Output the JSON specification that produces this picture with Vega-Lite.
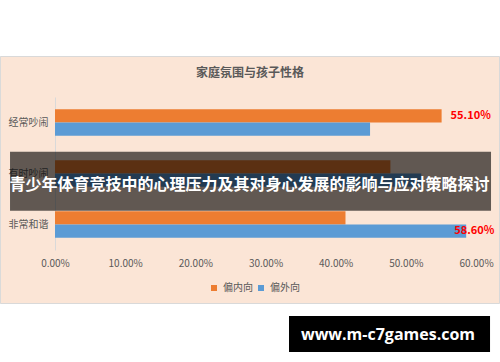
{
  "$schema": "https://vega.github.io/schema/vega-lite/v6.json",
  "width": 421,
  "height": 153,
  "autosize": {"type": "none"},
  "padding": {"left": 55, "top": 97, "right": 24, "bottom": 112},
  "background": "#FBE5D6",
  "config": {
    "view": {"stroke": null},
    "font": "Noto Sans CJK SC",
    "axis": {"labelFont": "Noto Sans CJK SC", "labelColor": "#595959", "labelFontSize": 10, "ticks": false, "grid": false, "title": null}
  },
  "data": {
    "values": [
      {"category": "经常吵闹", "personality": "偏内向", "value": 0.551},
      {"category": "经常吵闹", "personality": "偏外向", "value": 0.449},
      {"category": "有时吵闹", "personality": "偏内向", "value": 0.478},
      {"category": "有时吵闹", "personality": "偏外向", "value": 0.522},
      {"category": "非常和谐", "personality": "偏内向", "value": 0.414},
      {"category": "非常和谐", "personality": "偏外向", "value": 0.586}
    ]
  },
  "resolve": {"scale": {"y": "independent"}},
  "layer": [
    {
      "mark": {"type": "bar"},
      "encoding": {
        "y": {"field": "category", "type": "nominal", "title": null,
              "scale": {"domain": ["经常吵闹", "有时吵闹", "非常和谐"], "paddingInner": 0.476, "paddingOuter": 0.238},
              "axis": {"domain": true, "domainColor": "#D9D9D9", "labelPadding": 7}},
        "yOffset": {"field": "personality", "type": "nominal", "scale": {"domain": ["偏内向", "偏外向"], "paddingInner": 0, "paddingOuter": 0}},
        "x": {"field": "value", "type": "quantitative", "title": null,
              "scale": {"domain": [0, 0.6], "nice": false, "zero": true},
              "axis": {"format": ".2%", "values": [0, 0.1, 0.2, 0.3, 0.4, 0.5, 0.6], "domain": false, "labelPadding": 8, "labelFlush": false, "labelOverlap": false}},
        "color": {"field": "personality", "type": "nominal", "title": null,
                  "scale": {"domain": ["偏内向", "偏外向"], "range": ["#ED7D31", "#5B9BD5"]},
                  "legend": {"orient": "none", "legendX": 154, "legendY": 186, "direction": "horizontal",
                             "symbolType": "square", "symbolSize": 36, "symbolStrokeWidth": 0,
                             "labelFontSize": 10, "labelColor": "#595959", "labelFont": "Noto Sans CJK SC",
                             "labelOffset": 4, "columnPadding": 3, "padding": 0}}
      }
    },
    {
      "transform": [{"filter": "datum.category === '经常吵闹' && datum.personality === '偏内向'"}],
      "mark": {"type": "text", "align": "left", "baseline": "middle", "dx": 9, "fontSize": 11, "fontWeight": "bold", "color": "#FF0000"},
      "encoding": {
        "y": {"field": "category", "type": "nominal", "axis": null,
              "scale": {"domain": ["经常吵闹", "有时吵闹", "非常和谐"], "paddingInner": 0.476, "paddingOuter": 0.238}},
        "yOffset": {"field": "personality", "type": "nominal", "scale": {"domain": ["偏内向", "偏外向"], "paddingInner": 0, "paddingOuter": 0}},
        "x": {"field": "value", "type": "quantitative", "scale": {"domain": [0, 0.6], "nice": false, "zero": true}},
        "text": {"field": "value", "type": "quantitative", "format": ".2%"}
      }
    },
    {
      "transform": [{"filter": "datum.category === '非常和谐' && datum.personality === '偏外向'"}],
      "mark": {"type": "text", "align": "left", "baseline": "middle", "dx": -12, "fontSize": 11, "fontWeight": "bold", "color": "#FF0000"},
      "encoding": {
        "y": {"field": "category", "type": "nominal", "axis": null,
              "scale": {"domain": ["经常吵闹", "有时吵闹", "非常和谐"], "paddingInner": 0.476, "paddingOuter": 0.238}},
        "yOffset": {"field": "personality", "type": "nominal", "scale": {"domain": ["偏内向", "偏外向"], "paddingInner": 0, "paddingOuter": 0}},
        "x": {"field": "value", "type": "quantitative", "scale": {"domain": [0, 0.6], "nice": false, "zero": true}},
        "text": {"field": "value", "type": "quantitative", "format": ".2%"}
      }
    },
    {
      "data": {"values": [{"label": "家庭氛围与孩子性格"}]},
      "mark": {"type": "text", "align": "center", "baseline": "middle", "fontSize": 12, "fontWeight": "bold", "color": "#595959"},
      "encoding": {
        "x": {"datum": 0.2779, "type": "quantitative", "scale": {"domain": [0, 0.6], "nice": false, "zero": true}},
        "y": {"datum": -0.155, "type": "quantitative", "axis": null, "scale": {"domain": [0, 1], "reverse": true, "nice": false, "zero": false}},
        "text": {"field": "label", "type": "nominal"}
      }
    },
    {
      "data": {"values": [{}]},
      "mark": {"type": "rect", "fill": "white"},
      "encoding": {
        "x": {"datum": -0.09, "type": "quantitative", "scale": {"domain": [0, 0.6], "nice": false, "zero": true}},
        "x2": {"datum": 0.65},
        "y": {"datum": -1, "type": "quantitative", "axis": null, "scale": {"domain": [0, 1], "reverse": true, "nice": false, "zero": false}},
        "y2": {"datum": -0.2647}
      }
    },
    {
      "data": {"values": [{}]},
      "mark": {"type": "rect", "fill": "white"},
      "encoding": {
        "x": {"datum": -0.09, "type": "quantitative", "scale": {"domain": [0, 0.6], "nice": false, "zero": true}},
        "x2": {"datum": 0.65},
        "y": {"datum": 1.3497, "type": "quantitative", "axis": null, "scale": {"domain": [0, 1], "reverse": true, "nice": false, "zero": false}},
        "y2": {"datum": 2}
      }
    },
    {
      "data": {"values": [{}]},
      "mark": {"type": "rect", "fill": null, "fillOpacity": 0, "stroke": "#D9D9D9", "strokeWidth": 1},
      "encoding": {
        "x": {"datum": -0.0777, "type": "quantitative", "scale": {"domain": [0, 0.6], "nice": false, "zero": true}},
        "x2": {"datum": 0.6335},
        "y": {"datum": -0.2647, "type": "quantitative", "axis": null, "scale": {"domain": [0, 1], "reverse": true, "nice": false, "zero": false}},
        "y2": {"datum": 1.3497}
      }
    },
    {
      "data": {"values": [{}]},
      "mark": {"type": "rect", "fill": "black", "opacity": 0.615},
      "encoding": {
        "x": {"datum": -0.0641, "type": "quantitative", "scale": {"domain": [0, 0.6], "nice": false, "zero": true}},
        "x2": {"datum": 0.6214},
        "y": {"datum": 0.3575, "type": "quantitative", "axis": null, "scale": {"domain": [0, 1], "reverse": true, "nice": false, "zero": false}},
        "y2": {"datum": 0.7431}
      }
    },
    {
      "data": {"values": [{"label": "青少年体育竞技中的心理压力及其对身心发展的影响与应对策略探讨"}]},
      "mark": {"type": "text", "align": "center", "baseline": "middle", "fontSize": 16, "fontWeight": "bold", "color": "white", "font": "Noto Sans CJK SC"},
      "encoding": {
        "x": {"datum": 0.2772, "type": "quantitative", "scale": {"domain": [0, 0.6], "nice": false, "zero": true}},
        "y": {"datum": 0.5752, "type": "quantitative", "axis": null, "scale": {"domain": [0, 1], "reverse": true, "nice": false, "zero": false}},
        "text": {"field": "label", "type": "nominal"}
      }
    },
    {
      "data": {"values": [{}]},
      "mark": {"type": "rect", "fill": "black"},
      "encoding": {
        "x": {"datum": 0.3335, "type": "quantitative", "scale": {"domain": [0, 0.6], "nice": false, "zero": true}},
        "x2": {"datum": 0.62},
        "y": {"datum": 1.4314, "type": "quantitative", "axis": null, "scale": {"domain": [0, 1], "reverse": true, "nice": false, "zero": false}},
        "y2": {"datum": 1.6667}
      }
    },
    {
      "data": {"values": [{"label": "www.m-c7games.com"}]},
      "mark": {"type": "text", "align": "center", "baseline": "middle", "fontSize": 16, "fontWeight": "bold", "color": "white", "font": "Open Sans"},
      "encoding": {
        "x": {"datum": 0.4746, "type": "quantitative", "scale": {"domain": [0, 0.6], "nice": false, "zero": true}},
        "y": {"datum": 1.5556, "type": "quantitative", "axis": null, "scale": {"domain": [0, 1], "reverse": true, "nice": false, "zero": false}},
        "text": {"field": "label", "type": "nominal"}
      }
    }
  ]
}
